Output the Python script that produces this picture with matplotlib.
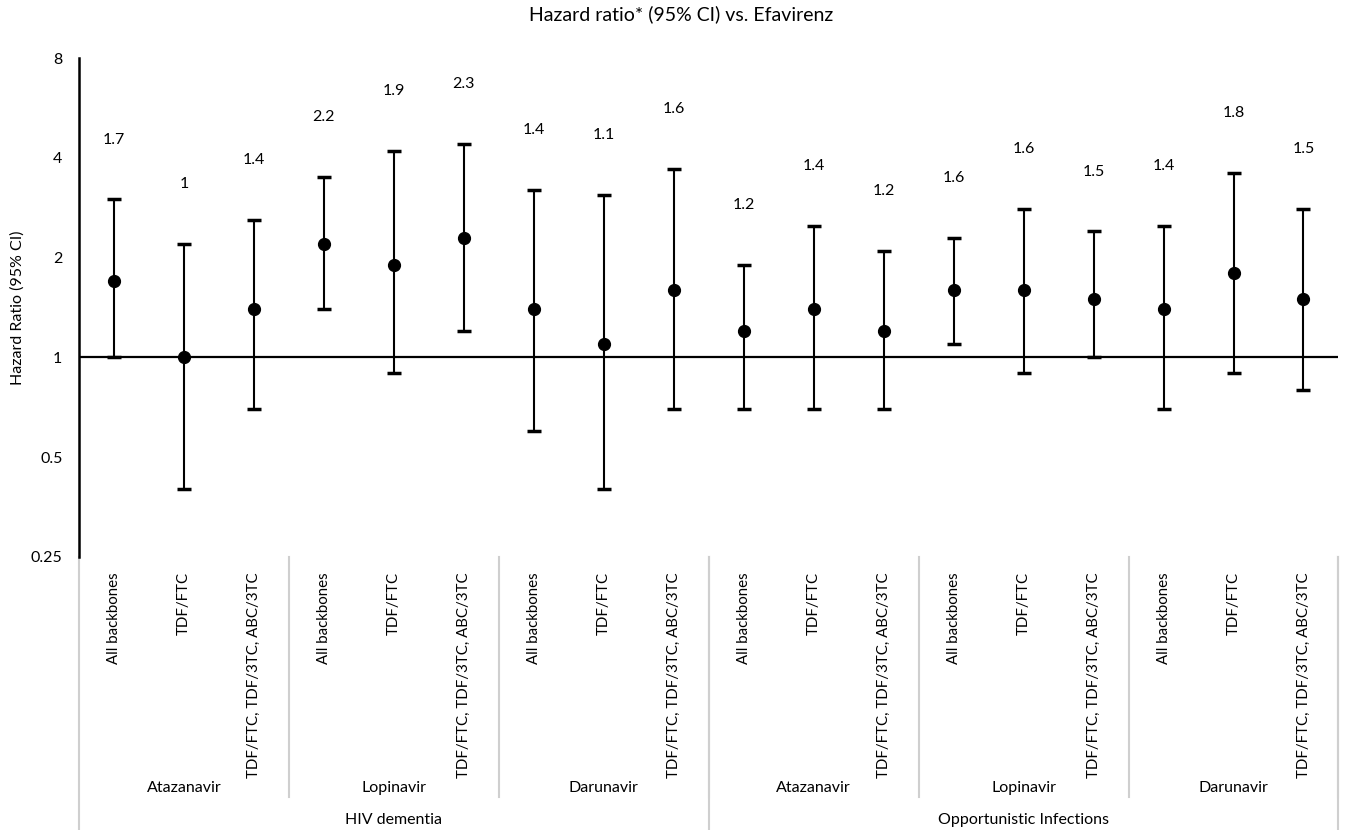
import numpy as np
import matplotlib
matplotlib.use("Agg")
import matplotlib.pyplot as plt

plt.rcParams["font.family"] = ["Lato", "DejaVu Sans"]

# Data
outcomes = ["HIV dementia", "Opportunistic Infections"]
drugs = ["Atazanavir", "Lopinavir", "Darunavir"]
backbones = ["All backbones", "TDF/FTC", "TDF/FTC, TDF/3TC, ABC/3TC"]

hr = [1.7, 1.0, 1.4, 2.2, 1.9, 2.3, 1.4, 1.1, 1.6,
      1.2, 1.4, 1.2, 1.6, 1.6, 1.5, 1.4, 1.8, 1.5]
ci_low = [1.0, 0.4, 0.7, 1.4, 0.9, 1.2, 0.6, 0.4, 0.7,
          0.7, 0.7, 0.7, 1.1, 0.9, 1.0, 0.7, 0.9, 0.8]
ci_high = [3.0, 2.2, 2.6, 3.5, 4.2, 4.4, 3.2, 3.1, 3.7,
           1.9, 2.5, 2.1, 2.3, 2.8, 2.4, 2.5, 3.6, 2.8]

hr = np.array(hr)
lo = np.array(ci_low)
hi = np.array(ci_high)
x = np.arange(len(hr))

fig = plt.figure(figsize=(13.63, 8.30), dpi=100)
ax = fig.add_axes([0.058, 0.329, 0.924, 0.601])

ax.set_yscale("log", base=2)
ax.axhline(1, color="black", lw=1.6, zorder=1)
ax.errorbar(x, hr, yerr=[hr - lo, hi - hr], fmt="o", color="black",
            ms=8.5, elinewidth=1.5, capsize=5, capthick=2.5, zorder=3)

for xi, v, h in zip(x, hr, hi):
    ax.annotate(f"{v:g}", (xi, h), xytext=(0, 43), textcoords="offset points",
                ha="center", va="center", fontsize=11.5)

ax.set_xlim(-0.5, len(hr) - 0.5)
ax.set_ylim(0.25, 8)
yt = [0.25, 0.5, 1, 2, 4, 8]
ax.set_yticks(yt)
ax.set_yticklabels([f"{t:g}" for t in yt], fontsize=11.5)
ax.yaxis.set_minor_locator(plt.NullLocator())
ax.tick_params(axis="y", length=0, pad=12)
ax.set_xticks([])
for s in ["top", "right", "bottom"]:
    ax.spines[s].set_visible(False)
ax.spines["left"].set_linewidth(1.8)
ax.set_ylabel("Hazard Ratio (95% CI)", fontsize=11.5, labelpad=4)
fig.text(0.5, 0.983, "Hazard ratio* (95% CI) vs. Efavirenz", fontsize=14,
         ha="center", va="center")

# multi-level category axis
tr = ax.get_xaxis_transform()
sep_col = "#cfcfcf"
for i, xi in enumerate(x):
    ax.text(xi, -0.03, backbones[i % 3], rotation=90, ha="center", va="top",
            fontsize=10.8, transform=tr)

for g in range(len(outcomes) * len(drugs)):
    xc = g * 3 + 1
    ax.text(xc, -0.463, drugs[g % 3], ha="center", va="center",
            fontsize=11.5, transform=tr)
    xs = g * 3 + 2.5
    ax.plot([xs, xs], [0, -0.481], color=sep_col, lw=1.5, transform=tr,
            clip_on=False)

for k, name in enumerate(outcomes):
    ax.text(k * 9 + 4, -0.527, name, ha="center", va="center",
            fontsize=11.5, transform=tr)

for xs in [-0.5, 8.5, 17.5]:
    ax.plot([xs, xs], [0, -0.56], color=sep_col, lw=1.5, transform=tr,
            clip_on=False)

fig.savefig("out.png", dpi=100)
